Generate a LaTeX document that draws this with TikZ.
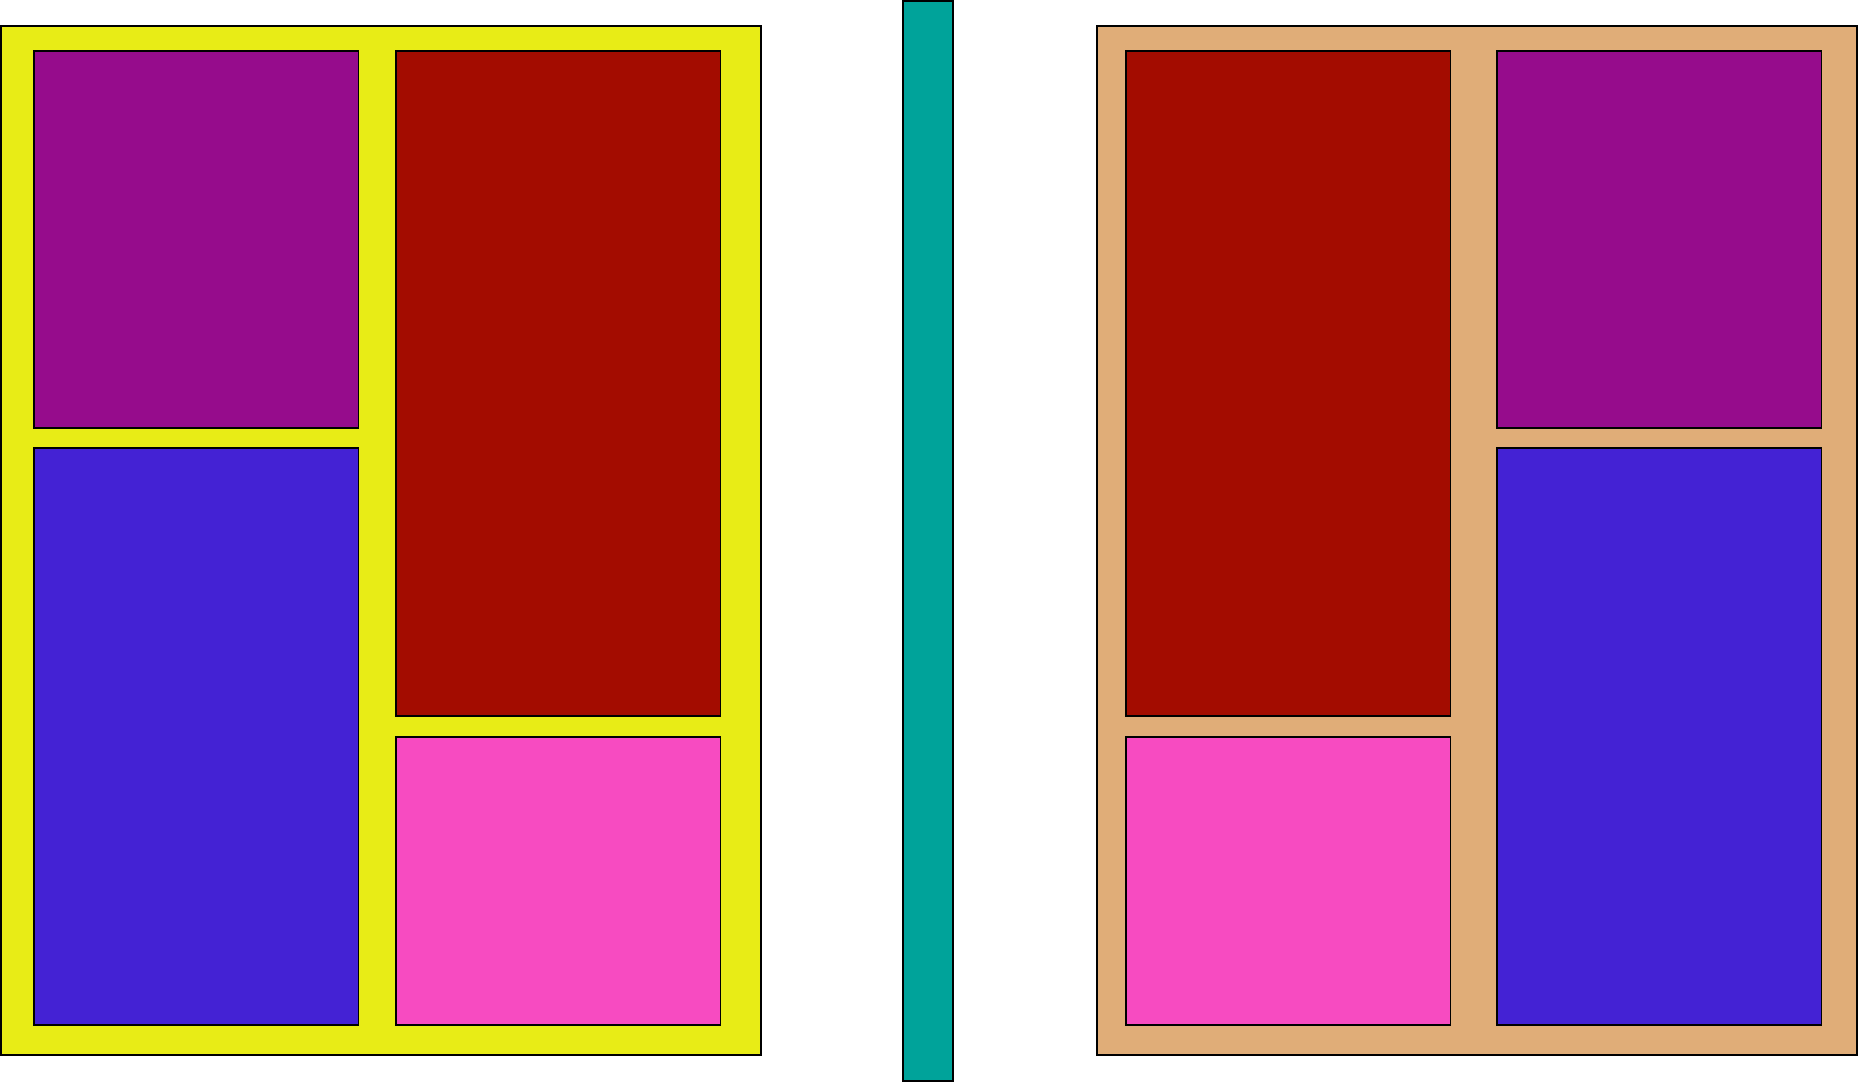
\documentclass[tikz,border=0pt]{standalone}
\usepackage{xcolor}
\usepackage{tikz}
\usetikzlibrary{positioning}
\definecolor{FrameYellow}{HTML}{E8EC16}
\definecolor{FrameTan}{HTML}{E0AD78}
\definecolor{TilePurple}{HTML}{960C8C}
\definecolor{TileRed}{HTML}{A30C00}
\definecolor{TileBlue}{HTML}{4422D4}
\definecolor{TilePink}{HTML}{F74BC1}
\definecolor{BarTeal}{HTML}{00A39A}

\begin{document}
\begin{tikzpicture}[
            panel/.style={draw=black, line width=0.3pt, rectangle, inner sep=0pt, outer sep=0pt, anchor=north west},
            frame/.style={panel, minimum width=7.60cm, minimum height=10.29cm},
            tile/.style={panel, minimum width=3.245cm}
        ]
            \useasboundingbox (0,0) rectangle (18.58,10.82);

            % left frame
            \node[frame, fill=FrameYellow] at (0.01, 10.56) (leftframe) {};
            \node[tile, fill=TilePurple, minimum height=3.77cm] at (0.34, 10.31) (leftpurple) {};
            \node[tile, fill=TileBlue, minimum height=5.77cm, anchor=north, below=0.20cm of leftpurple] (leftblue) {};
            \node[tile, fill=TileRed, minimum height=6.65cm] at (3.96, 10.31) (leftred) {};
            \node[tile, fill=TilePink, minimum height=2.88cm, anchor=north, below=0.21cm of leftred] (leftpink) {};

            % middle bar
            \node[panel, fill=BarTeal, minimum width=0.50cm, minimum height=10.80cm] at (9.03, 10.81) (bar) {};

            % right frame
            \node[frame, fill=FrameTan] at (10.97, 10.56) (rightframe) {};
            \node[tile, fill=TileRed, minimum height=6.65cm] at (11.26, 10.31) (rightred) {};
            \node[tile, fill=TilePink, minimum height=2.88cm, anchor=north, below=0.21cm of rightred] (rightpink) {};
            \node[tile, fill=TilePurple, minimum height=3.77cm] at (14.97, 10.31) (rightpurple) {};
            \node[tile, fill=TileBlue, minimum height=5.77cm, anchor=north, below=0.20cm of rightpurple] (rightblue) {};

        \end{tikzpicture}
\end{document}
